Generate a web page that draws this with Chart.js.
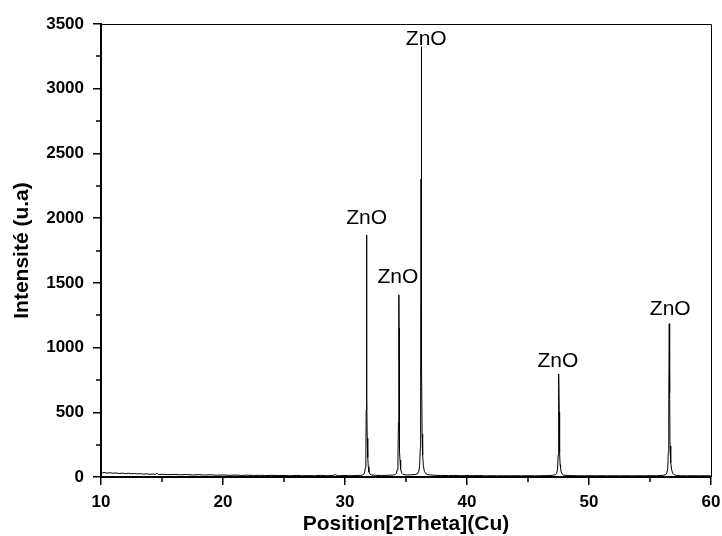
<!DOCTYPE html>
<html>
<head>
<meta charset="utf-8">
<script src="https://cdn.jsdelivr.net/npm/chart.js@4/dist/chart.umd.min.js"></script>
<style>
    html, body { margin: 0; padding: 0; background: #fff; }
    #wrap { width: 722px; height: 536px; }
</style>
</head>
<body>
<div id="wrap"><canvas id="xrdChart" width="722" height="536"></canvas></div>
<script>
'use strict'

// diffractogram, 2theta (deg) and counts
const angles = [
    10.0, 10.1, 10.25, 10.5, 10.75, 11.0, 11.25, 11.5, 11.75, 12.0, 12.25, 12.5, 12.75, 13.0, 13.25, 13.5, 13.75,
    14.0, 14.25, 14.5, 14.6, 14.7, 15.0, 15.5, 16.0, 16.5, 17.0, 17.5, 18.0, 18.5, 19.0, 19.5, 20.0, 20.5,
    21.0, 21.5, 22.0, 22.5, 23.0, 23.5, 24.0, 24.5, 25.0, 25.5, 26.0, 26.5, 27.0, 27.5, 28.0, 28.5, 29.0,
    29.2, 29.4, 30.0, 30.5, 31.0, 31.3,
    31.45, 31.55, 31.62, 31.67, 31.71, 31.74, 31.76, 31.77, 31.78, 31.80, 31.82, 31.85, 31.88, 31.91, 31.96, 32.05, 32.2,
    32.5, 33.0, 33.5, 33.9,
    34.10, 34.20, 34.28, 34.34, 34.38, 34.41, 34.42, 34.43, 34.45, 34.48, 34.51, 34.54, 34.58, 34.65, 34.75,
    35.0, 35.4, 35.8,
    35.95, 36.05, 36.12, 36.17, 36.20, 36.23, 36.25, 36.27, 36.29, 36.32, 36.35, 36.38, 36.42, 36.5, 36.62, 36.8,
    37.2, 37.8, 38.5, 39.0, 39.5, 40.0, 40.5, 41.0, 41.5, 42.0, 42.5, 43.0, 43.5, 44.0, 44.5, 45.0, 45.5, 46.0, 46.5, 47.0,
    47.25, 47.35, 47.42, 47.47, 47.50, 47.53, 47.56, 47.59, 47.63, 47.67, 47.72, 47.82, 47.95,
    48.5, 49.0, 49.5, 50.0, 50.5, 51.0, 51.5, 52.0, 52.5, 53.0, 53.5, 54.0, 54.5, 55.0, 55.5, 56.0,
    56.28, 56.38, 56.45, 56.50, 56.54, 56.58, 56.61, 56.64, 56.68, 56.72, 56.77, 56.85, 56.98, 57.2,
    57.5, 58.0, 58.5, 59.0, 59.5, 60.0
];
const counts = [
    38, 31, 35, 30, 33, 29, 31, 27, 30, 26, 29, 25, 27, 24, 26, 22, 25,
    21, 23, 20, 30, 19, 21, 18, 20, 17, 19, 16, 18, 15, 17, 14, 16, 13,
    15, 12, 14, 12, 13, 11, 13, 11, 12, 10, 12, 10, 11, 10, 12, 10, 11,
    18, 10, 11, 10, 12, 13,
    16, 22, 38, 75, 190, 520, 1350, 1870, 1450, 620, 300, 180, 150, 80, 38, 22, 15,
    13, 12, 13, 15,
    18, 28, 55, 140, 420, 1100, 1408, 1150, 480, 200, 130, 110, 60, 30, 20,
    16, 16, 20,
    25, 45, 90, 220, 700, 2300, 3324, 2400, 900, 330, 220, 170, 90, 45, 26, 18,
    14, 12, 11, 12, 10, 11, 10, 11, 9, 10, 9, 10, 9, 10, 9, 10, 9, 10, 11, 13,
    17, 28, 60, 170, 480, 796, 500, 190, 95, 70, 38, 20, 14,
    11, 10, 9, 10, 9, 10, 9, 10, 9, 10, 9, 10, 9, 10, 10, 12,
    18, 30, 65, 190, 600, 1184, 650, 240, 130, 110, 60, 30, 17, 12,
    10, 9, 10, 9, 10, 9
];

// indexed reflections
const peakAngles = [31.77, 34.42, 36.25, 47.53, 56.58];
const peakCounts = [1870, 1408, 3324, 796, 1184];
const peakNames = ["ZnO", "ZnO", "ZnO", "ZnO", "ZnO"];

const xTicks = [10, 20, 30, 40, 50, 60];
const yTicks = [0, 500, 1000, 1500, 2000, 2500, 3000, 3500];

const fontFamily = "'Liberation Sans', Arial, sans-serif";

// minor ticks, frame and peak labels
const decorPlugin = {
    id: 'decor',
    afterDraw(chart, args, opts) {
        const ctx = chart.ctx;
        const area = chart.chartArea;
        const xs = chart.scales.x;
        const ys = chart.scales.y;
        ctx.save();
        ctx.strokeStyle = '#000';

        // top and right frame
        ctx.lineWidth = 1;
        ctx.beginPath();
        ctx.moveTo(area.left, area.top + 0.5);
        ctx.lineTo(area.right + 0.5, area.top + 0.5);
        ctx.lineTo(area.right + 0.5, area.bottom);
        ctx.stroke();

        // minor ticks halfway between majors
        ctx.lineWidth = 1.5;
        ctx.beginPath();
        for (let i = 0; i < xTicks.length - 1; i++) {
            const px = Math.round(xs.getPixelForValue((xTicks[i] + xTicks[i + 1]) / 2));
            ctx.moveTo(px, area.bottom);
            ctx.lineTo(px, area.bottom + 5);
        }
        for (let i = 0; i < yTicks.length - 1; i++) {
            const py = Math.round(ys.getPixelForValue((yTicks[i] + yTicks[i + 1]) / 2));
            ctx.moveTo(area.left, py);
            ctx.lineTo(area.left - 5, py);
        }
        ctx.stroke();

        // peak names
        ctx.fillStyle = '#000';
        ctx.font = "21px " + fontFamily;
        ctx.textAlign = 'center';
        ctx.textBaseline = 'alphabetic';
        peakAngles.forEach((a, i) => {
            const px = xs.getPixelForValue(a) + opts.shiftX[i];
            const py = ys.getPixelForValue(peakCounts[i]) - opts.lift[i];
            ctx.fillText(peakNames[i], px, py);
        });
        ctx.restore();
    }
};

const points = angles.map((a, i) => ({ x: a, y: counts[i] }));

new Chart(document.getElementById('xrdChart'), {
    type: 'line',
    data: {
        datasets: [{
            data: points,
            borderColor: '#000',
            borderWidth: 1,
            pointRadius: 0,
            tension: 0,
            fill: false
        }]
    },
    options: {
        responsive: false,
        animation: false,
        events: [],
        layout: { padding: { top: 24, right: 11, left: 0, bottom: 0 } },
        plugins: {
            legend: { display: false },
            tooltip: { enabled: false },
            decor: {
                shiftX: [0, -1, 5, -1, 1],
                lift: [11, 12, 2, 7, 9]
            }
        },
        scales: {
            x: {
                type: 'linear',
                min: 10,
                max: 60,
                afterFit(scale) {
                    scale.height = 59;
                    scale.paddingLeft = 0;
                    scale.paddingRight = 0;
                },
                afterBuildTicks(scale) { scale.ticks = xTicks.map(v => ({ value: v })); },
                border: { display: true, color: '#000', width: 2 },
                grid: { display: true, drawOnChartArea: false, drawTicks: true, tickLength: 8, color: '#000', lineWidth: 1.5 },
                ticks: {
                    color: '#000',
                    padding: 7,
                    maxRotation: 0,
                    callback: v => String(v),
                    font: { family: fontFamily, size: 17, weight: 'bold' }
                },
                title: {
                    display: true,
                    text: 'Position[2Theta](Cu)',
                    color: '#000',
                    font: { family: fontFamily, size: 21, weight: 'bold', lineHeight: 1 },
                    padding: { top: 0, bottom: 1 }
                }
            },
            y: {
                min: 0,
                max: 3500,
                afterFit(scale) {
                    scale.width = 101;
                    scale.paddingTop = 0;
                    scale.paddingBottom = 0;
                },
                afterBuildTicks(scale) { scale.ticks = yTicks.map(v => ({ value: v })); },
                border: { display: true, color: '#000', width: 2 },
                grid: { display: true, drawOnChartArea: false, drawTicks: true, tickLength: 8, color: '#000', lineWidth: 1.5 },
                ticks: {
                    color: '#000',
                    padding: 9,
                    callback: v => String(v),
                    font: { family: fontFamily, size: 17, weight: 'bold' }
                },
                title: {
                    display: true,
                    text: 'Intensité (u.a)',
                    color: '#000',
                    font: { family: fontFamily, size: 21, weight: 'bold', lineHeight: 1 },
                    padding: { top: 12, bottom: 0 }
                }
            }
        }
    },
    plugins: [decorPlugin]
});
</script>
</body>
</html>
